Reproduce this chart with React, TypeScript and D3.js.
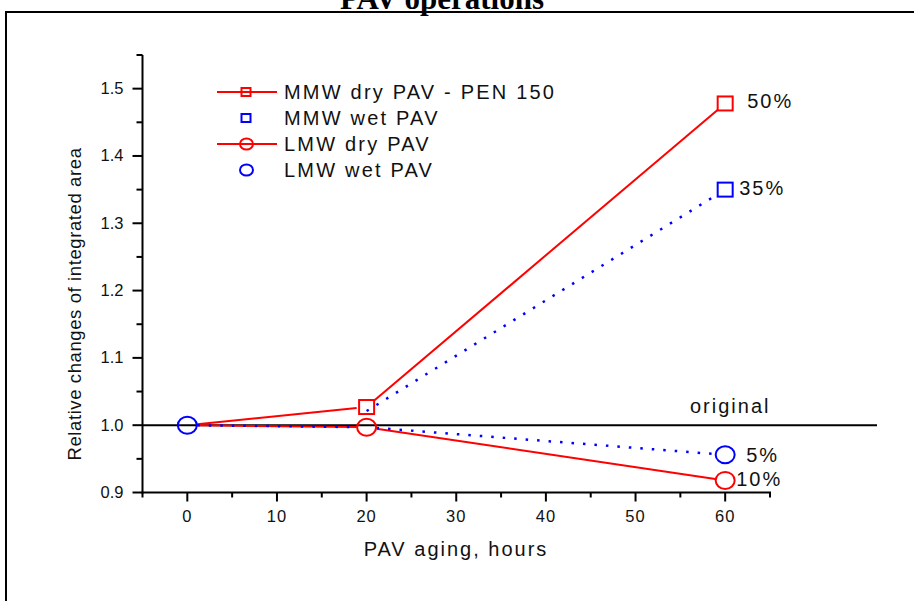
import * as d3 from 'd3'

// hours of PAV aging
const hours = [0, 20, 60]

// relative change of integrated area (null = no point)
const mmwDry = [1.0, 1.027, 1.478]
const mmwWet = [null, 1.021, 1.35]
const lmwDry = [1.0, 0.997, 0.918]
const lmwWet = [1.0, 0.997, 0.956]

// which points show a marker
const mmwDryMarks = [false, true, true]
const mmwWetMarks = [false, false, true]
const lmwDryMarks = [false, true, true]
const lmwWetMarks = [true, false, true]

const seriesLabels = ['MMW dry PAV - PEN 150', 'MMW wet PAV', 'LMW dry PAV', 'LMW wet PAV']
const endLabels = ['50%', '35%', '10%', '5%']

const xTicks = [0, 10, 20, 30, 40, 50, 60]
const xMinor = [-5, 5, 15, 25, 35, 45, 55, 65]
const yTicks = [0.9, 1.0, 1.1, 1.2, 1.3, 1.4, 1.5]
const yMinor = [0.95, 1.05, 1.15, 1.25, 1.35, 1.45, 1.55]

const RED = '#ff0000'
const BLUE = '#0000ff'
const FONT = 'Arial, "Liberation Sans", sans-serif'

type Series = {
  values: (number | null)[]
  marks: boolean[]
  color: string
  marker: 'square' | 'circle'
  dotted: boolean
  label: string
  endLabel: string
  endDx: number
  endDy: number
}

const series: Series[] = [
  { values: mmwDry, marks: mmwDryMarks, color: RED, marker: 'square', dotted: false, label: seriesLabels[0], endLabel: endLabels[0], endDx: 22, endDy: 5 },
  { values: mmwWet, marks: mmwWetMarks, color: BLUE, marker: 'square', dotted: true, label: seriesLabels[1], endLabel: endLabels[1], endDx: 14, endDy: 5 },
  { values: lmwDry, marks: lmwDryMarks, color: RED, marker: 'circle', dotted: false, label: seriesLabels[2], endLabel: endLabels[2], endDx: 11, endDy: 6 },
  { values: lmwWet, marks: lmwWetMarks, color: BLUE, marker: 'circle', dotted: true, label: seriesLabels[3], endLabel: endLabels[3], endDx: 21, endDy: 7 },
]

function Marker({ type, x, y, color, w = 15, h = 14 }: { type: 'square' | 'circle'; x: number; y: number; color: string; w?: number; h?: number }) {
  if (type === 'square') {
    return <rect x={x - w / 2} y={y - h / 2} width={w} height={h} fill="none" stroke={color} strokeWidth={2} />
  }
  return <ellipse cx={x} cy={y} rx={w / 2 + 2} ry={h / 2 + 1.5} fill="none" stroke={color} strokeWidth={2} />
}

export default function App() {
  const width = 914
  const height = 601

  const x = d3.scaleLinear().domain([-5, 65]).range([142.5, 770])
  const y = d3.scaleLinear().domain([0.9, 1.55]).range([492.5, 55])

  const gap = 10

  // segments between consecutive points, shortened near the markers
  const segments = (s: Series) => {
    const out: { x1: number; y1: number; x2: number; y2: number }[] = []
    for (let i = 0; i < hours.length - 1; i++) {
      const a = s.values[i]
      const b = s.values[i + 1]
      if (a == null || b == null) continue
      const x1 = x(hours[i]), y1 = y(a), x2 = x(hours[i + 1]), y2 = y(b)
      const len = Math.hypot(x2 - x1, y2 - y1)
      const ux = (x2 - x1) / len, uy = (y2 - y1) / len
      const g1 = s.values[i - 1] == null && i > 0 ? 0 : gap
      out.push({ x1: x1 + ux * g1, y1: y1 + uy * g1, x2: x2 - ux * gap, y2: y2 - uy * gap })
    }
    return out
  }

  const last = hours.length - 1
  const legendRows = [92, 118, 144, 170]

  return (
    <svg
      width={width}
      height={height}
      style={{ position: 'absolute', left: 0, top: 0, display: 'block', background: '#fff' }}
    >
      <rect x={0} y={0} width={width} height={height} fill="#fff" />
      {/* outer frame */}
      <rect x={6} y={12} width={1000} height={1000} fill="none" stroke="#000" strokeWidth={2} />
      <text
        x={442}
        y={8.5}
        textAnchor="middle"
        fontFamily='"Times New Roman", "Liberation Serif", serif'
        fontWeight="bold"
        fontSize={31}
        fill="#000"
      >
        PAV operations
      </text>

      {/* reference line at 1.0 */}
      <line x1={x(-5)} x2={877} y1={y(1)} y2={y(1)} stroke="#000" strokeWidth={2} />
      <text x={690} y={413} fontFamily={FONT} fontSize={20} letterSpacing={2} fill="#111">original</text>

      {/* axes */}
      <line x1={x(-5)} x2={x(-5)} y1={y(1.55)} y2={y(0.9) + 1} stroke="#000" strokeWidth={2} />
      <line x1={x(-5) - 1} x2={x(65) + 1} y1={y(0.9)} y2={y(0.9)} stroke="#000" strokeWidth={2} />
      {yTicks.map((t) => (
        <g key={'y' + t}>
          <line x1={x(-5) - 10} x2={x(-5)} y1={y(t)} y2={y(t)} stroke="#000" strokeWidth={2} />
          <text x={x(-5) - 19} y={y(t) + 5.5} textAnchor="end" fontFamily={FONT} fontSize={16.5} fill="#111">
            {t.toFixed(1)}
          </text>
        </g>
      ))}
      {yMinor.map((t) => (
        <line key={'ym' + t} x1={x(-5) - 6} x2={x(-5)} y1={y(t)} y2={y(t)} stroke="#000" strokeWidth={2} />
      ))}
      {xTicks.map((t) => (
        <g key={'x' + t}>
          <line x1={x(t)} x2={x(t)} y1={y(0.9)} y2={y(0.9) + 9} stroke="#000" strokeWidth={2} />
          <text x={x(t)} y={522} textAnchor="middle" fontFamily={FONT} fontSize={16.5} letterSpacing={1} fill="#111">
            {t}
          </text>
        </g>
      ))}
      {xMinor.map((t) => (
        <line key={'xm' + t} x1={x(t)} x2={x(t)} y1={y(0.9)} y2={y(0.9) + 5} stroke="#000" strokeWidth={2} />
      ))}
      <text x={456} y={556} textAnchor="middle" fontFamily={FONT} fontSize={20} letterSpacing={2} fill="#111">
        PAV aging, hours
      </text>
      <text
        transform="translate(81,304) rotate(-90)"
        textAnchor="middle"
        fontFamily={FONT}
        fontSize={18.5}
        letterSpacing={0.6}
        fill="#111"
      >
        Relative changes of integrated area
      </text>

      {/* series lines */}
      {series.map((s, si) =>
        segments(s).map((seg, i) => (
          <line
            key={`l${si}-${i}`}
            {...seg}
            stroke={s.color}
            strokeWidth={s.dotted ? 2.5 : 2}
            strokeDasharray={s.dotted ? '2.5 9' : undefined}
          />
        ))
      )}

      {/* markers: blue first, red on top */}
      {[1, 3, 0, 2].map((si) => {
        const s = series[si]
        return s.values.map((v, i) =>
          v != null && s.marks[i] ? (
            <Marker key={`m${si}-${i}`} type={s.marker} x={x(hours[i])} y={y(v)} color={s.color} />
          ) : null
        )
      })}

      {/* end labels */}
      {series.map((s, si) => (
        <text
          key={'e' + si}
          x={x(hours[last]) + s.endDx}
          y={y(s.values[last] as number) + s.endDy}
          fontFamily={FONT}
          fontSize={20}
          letterSpacing={2}
          fill="#111"
        >
          {s.endLabel}
        </text>
      ))}

      {/* legend */}
      {series.map((s, si) => (
        <g key={'lg' + si}>
          {!s.dotted && (
            <line x1={217} x2={277} y1={legendRows[si]} y2={legendRows[si]} stroke={s.color} strokeWidth={2} />
          )}
          {s.marker === 'square' ? (
            <Marker type="square" x={246} y={legendRows[si]} color={s.color} w={9} h={8} />
          ) : (
            <Marker type="circle" x={246.5} y={legendRows[si]} color={s.color} w={9} h={8} />
          )}
          <text x={284} y={legendRows[si] + 7} fontFamily={FONT} fontSize={20} letterSpacing={2.2} fill="#111">
            {s.label}
          </text>
        </g>
      ))}
    </svg>
  )
}
